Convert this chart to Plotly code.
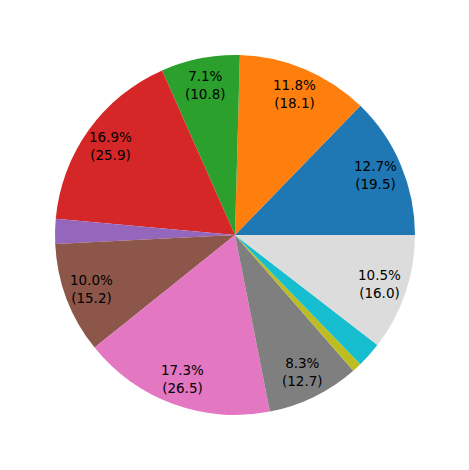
import math
import plotly.graph_objects as go

# Slice values, counterclockwise from 3 o'clock
values = [19.46, 18.08, 10.8, 25.86, 3.4, 15.24, 26.5, 12.7, 1.3, 3.46, 16.0]
colors = ['#1f77b4', '#ff7f0e', '#2ca02c', '#d62728', '#9467bd', '#8c564b',
          '#e377c2', '#7f7f7f', '#bcbd22', '#17becf', '#dcdcdc']

total = sum(values)

fig = go.Figure()
fig.add_trace(go.Pie(
    values=values,
    marker=dict(colors=colors, line=dict(width=0)),
    sort=False,
    direction='counterclockwise',
    # plotly puts the first ccw slice clockwise of `rotation`, so shift it back
    rotation=90 - values[0] / total * 360,
    textinfo='none',
    hoverinfo='percent+value',
    showlegend=False,
))

# percent labels (matplotlib autopct style, pctdistance 0.85, hidden for tiny slices)
start = 0.0
annotations = []
for v in values:
    frac = v / total
    mid = (start + frac / 2) * 2 * math.pi
    start += frac
    if frac * 100 < 5:
        continue
    annotations.append(dict(
        x=0.5 + 0.5 * 0.85 * math.cos(mid),
        y=0.5 + 0.5 * 0.85 * math.sin(mid),
        xref='paper', yref='paper',
        text=f"{frac * 100:.1f}%<br>({v:.1f})",
        showarrow=False,
        font=dict(family='DejaVu Sans', size=13.5, color='black'),
        xanchor='center', yanchor='middle',
    ))

# page body has an 8px margin, so pull the plot area up/left by that much
fig.update_layout(
    width=469, height=470,
    margin=dict(l=47, r=62, t=47, b=63),
    paper_bgcolor='white',
    plot_bgcolor='white',
    annotations=annotations,
)

fig.write_html("out.html")
